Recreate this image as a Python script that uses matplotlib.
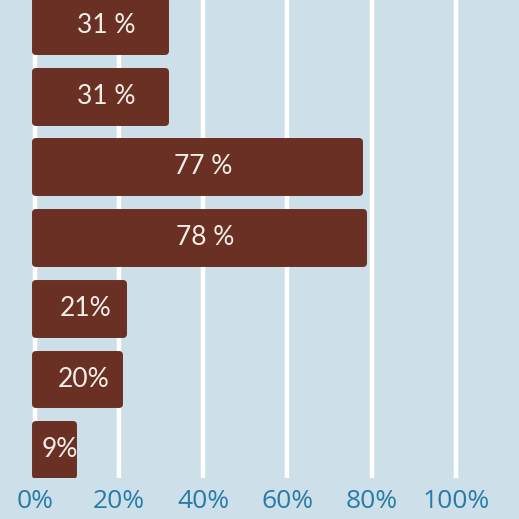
"""Horizontal bar chart of percentages on a light blue panel."""
import matplotlib
matplotlib.use("Agg")
import matplotlib.pyplot as plt

# Data, top to bottom
values = [31, 31, 77, 78, 21, 20, 9]
bar_labels = ["31 %", "31 %", "77 %", "78 %", "21%", "20%", "9%"]
tick_values = [0, 20, 40, 60, 80, 100]
tick_labels = ["0%", "20%", "40%", "60%", "80%", "100%"]

bg_color = "#cde0ea"
bar_color = "#6a3024"
tick_color = "#2a7aa8"

fig = plt.figure(figsize=(5.19, 5.19), dpi=100)
fig.patch.set_facecolor(bg_color)
ax = fig.add_axes([0, 1 - 478 / 519, 1, 478 / 519])
ax.set_facecolor(bg_color)

positions = list(range(len(values)))
# Edge in the same colour with round joins gives the rounded corners
ax.barh(positions, values, height=0.72, color=bar_color, edgecolor=bar_color,
        linewidth=5, joinstyle="round", zorder=3)

for y, v, s in zip(positions, values, bar_labels):
    ax.text(v / 2 + 1.5, y, s, ha="center", va="center", color="#f4ede8",
            fontsize=19, family="Lato", zorder=4)

# White vertical grid lines
for t in tick_values:
    ax.axvline(t, color="white", linewidth=3.2, zorder=1)

ax.set_xlim(-8.3, 115)
ax.set_ylim(6.4, -0.36)
ax.set_xticks(tick_values)
ax.set_xticklabels(tick_labels)
ax.set_yticks([])
ax.tick_params(axis="x", length=0, pad=8, labelsize=19, labelcolor=tick_color)
for lbl in ax.get_xticklabels():
    lbl.set_family("Open Sans")
for spine in ax.spines.values():
    spine.set_visible(False)

fig.savefig("out.png", dpi=100, facecolor=bg_color)
